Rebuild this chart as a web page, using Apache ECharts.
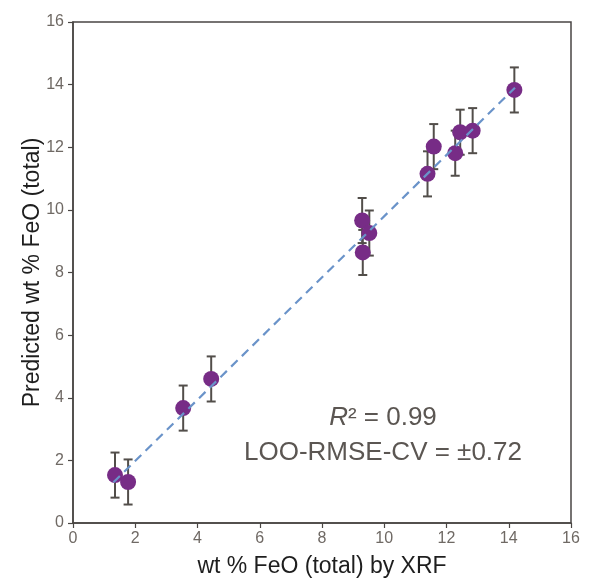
<!DOCTYPE html>
<html><head><meta charset="utf-8">
<script src="https://cdn.jsdelivr.net/npm/echarts@6/dist/echarts.min.js"></script>
<style>html,body{margin:0;padding:0;background:#fff}#c{width:591px;height:580px}</style>
</head><body><div id="c"></div>
<script>
var xrf = [1.35, 1.77, 3.54, 4.44, 9.29, 9.52, 9.31, 11.39, 11.59, 12.28, 12.44, 12.84, 14.18];
var predicted = [1.53, 1.31, 3.67, 4.60, 9.66, 9.26, 8.64, 11.15, 12.02, 11.81, 12.48, 12.53, 13.83];
var errs = [0.72, 0.72, 0.72, 0.72, 0.72, 0.72, 0.72, 0.72, 0.72, 0.72, 0.72, 0.72, 0.72];
var fitX = [1.3, 14.2];
var fitY = [1.3, 13.9];
var axisTicks = [0, 2, 4, 6, 8, 10, 12, 14, 16];

var chart = echarts.init(document.getElementById('c'));
var pts = xrf.map(function(x, i){ return [x, predicted[i]]; });
var errData = xrf.map(function(x, i){ return [x, predicted[i] - errs[i], predicted[i] + errs[i]]; });
var fitData = fitX.map(function(x, i){ return [x, fitY[i]]; });
var font = 'Liberation Sans, Arial, sans-serif';
var axisCommon = {
  min: axisTicks[0], max: axisTicks[axisTicks.length-1], interval: 2,
  splitLine: {show: false},
  axisLine: {show: true, lineStyle: {color: '#4a4644', width: 1.5}},
  axisTick: {show: true, length: 5, lineStyle: {color: '#4a4644', width: 1.2}},
  axisLabel: {color: '#6f6964', fontSize: 16, fontFamily: font},
  nameLocation: 'middle',
  nameMoveOverlap: false,
  nameTextStyle: {color: '#1e1e1e', fontSize: 23, fontFamily: font}
};
chart.setOption({
  animation: false,
  grid: {left: 73, right: 20, top: 22, bottom: 57, outerBoundsMode: 'none', containLabel: false,
    show: true, borderColor: '#4a4644', borderWidth: 1.5},
  xAxis: Object.assign({}, axisCommon, {type: 'value', name: 'wt % FeO (total) by XRF', nameGap: 32,
    axisLabel: Object.assign({}, axisCommon.axisLabel, {margin: 8})}),
  yAxis: Object.assign({}, axisCommon, {type: 'value', name: 'Predicted wt % FeO (total)', nameGap: 29,
    axisLabel: Object.assign({}, axisCommon.axisLabel, {margin: 9})}),
  series: [
    {
      type: 'line', data: fitData, symbol: 'none', z: 3,
      lineStyle: {color: '#6a93c9', width: 2.2, type: [9, 6]}
    },
    {
      type: 'custom', z: 2,
      renderItem: function(params, api){
        var x = api.value(0);
        var lo = api.coord([x, api.value(1)]);
        var hi = api.coord([x, api.value(2)]);
        var cw = 4.5;
        var st = {stroke: '#524e4a', lineWidth: 2};
        return {type: 'group', children: [
          {type: 'line', shape: {x1: lo[0], y1: lo[1], x2: hi[0], y2: hi[1]}, style: st},
          {type: 'line', shape: {x1: lo[0]-cw, y1: lo[1], x2: lo[0]+cw, y2: lo[1]}, style: st},
          {type: 'line', shape: {x1: hi[0]-cw, y1: hi[1], x2: hi[0]+cw, y2: hi[1]}, style: st}
        ]};
      },
      data: errData
    },
    {
      type: 'scatter', data: pts, symbolSize: 16, z: 2,
      itemStyle: {color: '#772c86', opacity: 1}
    }
  ],
  graphic: [
    {type: 'text', x: 383, y: 418, style: {
      rich: {i: {fontStyle: 'italic', fontSize: 26, fontFamily: font, fill: '#5b5652'},
             n: {fontSize: 26, fontFamily: font, fill: '#5b5652'}},
      text: '{i|R}{n|² = 0.99}', align: 'center', verticalAlign: 'middle'}},
    {type: 'text', x: 383, y: 453, style: {
      text: 'LOO-RMSE-CV = ±0.72', fontSize: 26, fontFamily: font, fill: '#5b5652',
      align: 'center', verticalAlign: 'middle'}}
  ]
});
</script>
</body></html>
